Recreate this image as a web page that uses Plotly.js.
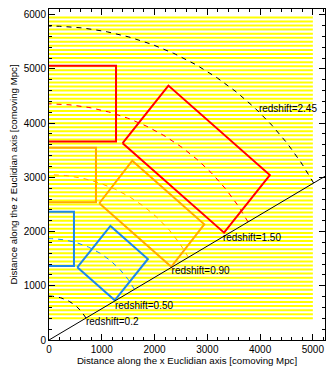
<!DOCTYPE html>
<html>
<head>
<meta charset="utf-8">
<script src="https://cdn.plot.ly/plotly-3.0.1.min.js"></script>
<style>html,body{margin:0;padding:0;background:#fff;}#chart{width:327px;height:370px;}</style>
</head>
<body>
<div id="chart"></div>
<script>
// ---- data ----
const stripeY = [400,475,550,625,700,775,850,925,1000,1075,1150,1225,1300,1375,1450,1525,1600,1675,1750,1825,1900,1975,2050,2125,2200,2275,2350,2425,2500,2575,2650,2725,2800,2875,2950,3025,3100,3175,3250,3325,3400,3475,3550,3625,3700,3775,3850,3925,4000,4075,4150,4225,4300,4375,4450,4525,4600,4675,4750,4825,4900,4975,5050,5125,5200,5275,5350,5425,5500,5575,5650,5725,5800,5875,5950];
const stripeXEnd = 5000;

const redshiftLabels = ['redshift=0.2','redshift=0.50','redshift=0.90','redshift=1.50','redshift=2.45'];
const arcRadius = [810, 1870, 3050, 4355, 5790];
const labelX = [700, 1250, 2323, 3295, 3977];
const labelY = [314, 614, 1255, 1863, 4244];

const lineAngleDeg = 30;   // line of sight boundary
const lineLength = 6100;

// axis-aligned boxes (x from 0 to boxX1)
const boxX1 = [473, 890, 1270];
const boxY0 = [1365, 2540, 3660];
const boxY1 = [2367, 3548, 5060];

// rotated boxes: vertices left, top, right, bottom
const rotX = [[536,1164,1874,1246],[953,1578,2942,2317],[1395,2263,4185,3317]];
const rotY = [[1341,2103,1494,732],[2522,3306,2134,1350],[3629,4692,3043,1980]];

const xTicks = [0,1000,2000,3000,4000,5000];
const yTicks = [0,1000,2000,3000,4000,5000,6000];

// ---- styles ----
const arcColors = ['#000000','#1e88e8','#ffaa00','#ff0000','#000000'];
const boxColors = ['#1e88e8','#ffaa00','#ff0000'];
const font = 'Liberation Sans, Arial, sans-serif';

const traces = [];
// stripes
const sx = [], sy = [];
stripeY.forEach(v => { sx.push(0, stripeXEnd, null); sy.push(v, v, null); });
traces.push({x:sx, y:sy, mode:'lines', line:{color:'#ffff00', width:2}, hoverinfo:'skip'});

// arcs
arcRadius.forEach((r,i) => {
  const ax = [], ay = [];
  for (let a = lineAngleDeg; a <= 90.001; a += 0.5) {
    const t = a*Math.PI/180;
    ax.push(r*Math.cos(t)); ay.push(r*Math.sin(t));
  }
  traces.push({x:ax, y:ay, mode:'lines', line:{color:arcColors[i], width:1, dash:'5px,5px'}, hoverinfo:'skip'});
});

// axis-aligned boxes
boxX1.forEach((x1,i) => {
  traces.push({x:[0,x1,x1,0], y:[boxY1[i],boxY1[i],boxY0[i],boxY0[i]], mode:'lines', line:{color:boxColors[i], width:2}, hoverinfo:'skip'});
});
// rotated boxes
rotX.forEach((xs,i) => {
  traces.push({x:[...xs, xs[0]], y:[...rotY[i], rotY[i][0]], mode:'lines', line:{color:boxColors[i], width:2}, hoverinfo:'skip'});
});
// line of sight
const la = lineAngleDeg*Math.PI/180;
traces.push({x:[0, lineLength*Math.cos(la)], y:[0, lineLength*Math.sin(la)], mode:'lines', line:{color:'#000', width:1}, hoverinfo:'skip'});
// labels
traces.push({x:labelX, y:labelY, mode:'text', text:redshiftLabels, textposition:'middle right', textfont:{family:font, size:10, color:'#000'}, hoverinfo:'skip', cliponaxis:false});

const axisCommon = {
  showline:true, linecolor:'#000', linewidth:1, mirror:'ticks',
  ticks:'inside', ticklen:6, tickwidth:1, tickcolor:'#000',
  showgrid:false, zeroline:false,
  minor:{ticks:'inside', dtick:200, ticklen:3, tickwidth:1, tickcolor:'#000', showgrid:false},
  tickfont:{family:font, size:10, color:'#000'}
};

const layout = {
  width:327, height:370,
  margin:{l:49, r:2, t:9, b:30},
  paper_bgcolor:'#fff', plot_bgcolor:'#fff',
  showlegend:false,
  xaxis: Object.assign({}, axisCommon, {
    range:[0,5230], tickvals:xTicks, ticktext:xTicks.map(String),
    title:{text:'Distance along the x Euclidian axis [comoving Mpc]', font:{family:font, size:9.7, color:'#000'}, standoff:3}
  }),
  yaxis: Object.assign({}, axisCommon, {
    range:[0,6105], tickvals:yTicks, ticktext:yTicks.map(String),
    title:{text:'Distance along the z Euclidian axis [comoving Mpc]', font:{family:font, size:9.7, color:'#000'}, standoff:4}
  })
};

Plotly.newPlot('chart', traces, layout, {displayModeBar:false, staticPlot:true});
</script>
</body>
</html>
